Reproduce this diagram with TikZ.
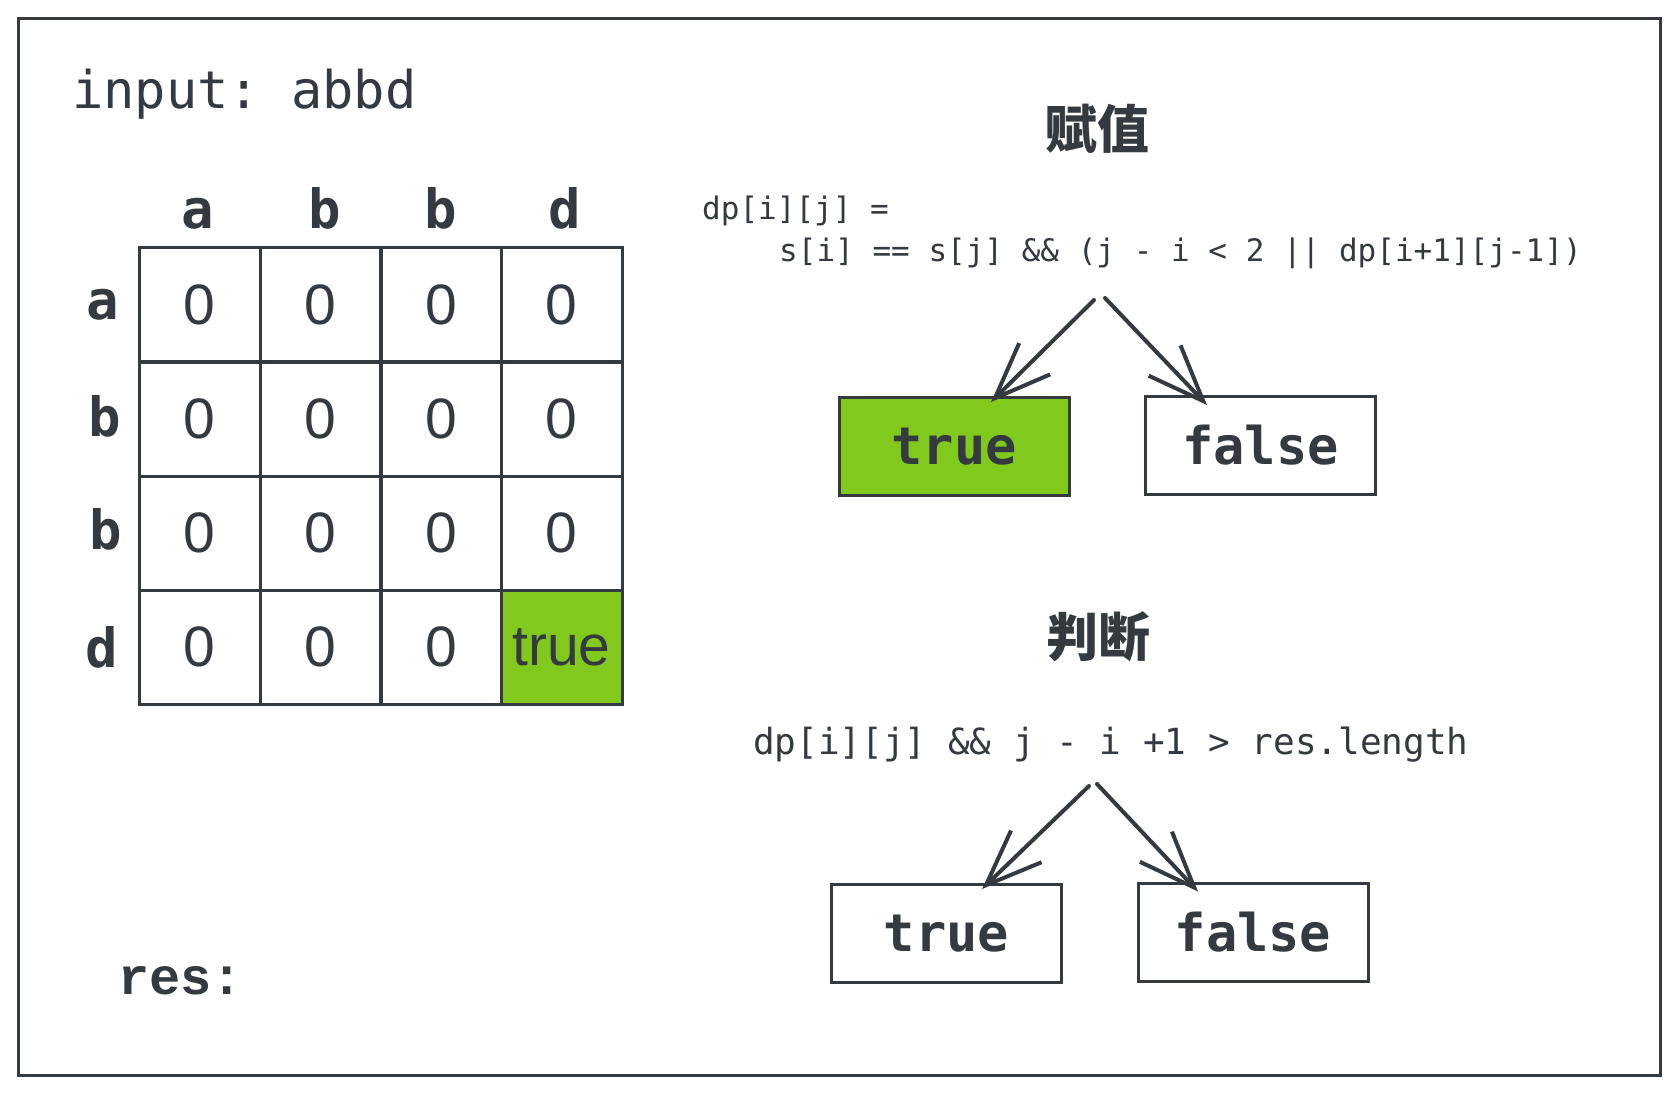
\documentclass[tikz,border=0pt]{standalone}
\usepackage{fontspec}
\setmainfont{Liberation Sans}
\setmonofont{DejaVu Sans Mono}
\newfontfamily\cjk{Noto Sans CJK SC}
\newfontfamily\resfont{Liberation Mono}
\usetikzlibrary{arrows.meta,calc}
\definecolor{ink}{HTML}{343A40}
\definecolor{lime}{HTML}{82C91E}
\tikzset{
  cell/.style={draw=ink, line width=3pt, minimum width=121pt, minimum height=114pt, inner sep=0pt, text=ink, font=\fontsize{57}{60}\selectfont},
  hdr/.style={text=ink, inner sep=0pt, anchor=base, font=\ttfamily\bfseries\fontsize{54}{60}\selectfont},
  codetxt/.style={text=ink, inner sep=0pt, anchor=base west},
  cbox/.style={draw=ink, line width=3pt, minimum width=230pt, minimum height=98pt, inner sep=0pt, text=ink, font=\ttfamily\bfseries\fontsize{52}{60}\selectfont},
  arr/.style={draw=ink, line width=4pt, line cap=round, -{Straight Barb[length=56pt,width=44pt,line width=4pt]}},
  title/.style={text=ink, inner sep=0pt, font=\cjk\bfseries\fontsize{52}{60}\selectfont}
}
\begin{document}
\begin{tikzpicture}[x=1pt,y=-1pt]
\useasboundingbox (0,0) rectangle (1680,1095);
\fill[white] (0,0) rectangle (1680,1095);
\draw[ink, line width=3pt] (18,18) rectangle (1660,1075);

% input label
\node[codetxt, font=\ttfamily\fontsize{52}{60}\selectfont] (inp) at (72,108) {input: abbd};

% column headers
\node[hdr] (h1) at (198,228) {a};
\node[hdr] (h2) at (325,228) {b};
\node[hdr] (h3) at (441,228) {b};
\node[hdr] (h4) at (565,228) {d};
% row headers
\node[hdr] (r1) at (103,319) {a};
\node[hdr] (r2) at (105,436) {b};
\node[hdr] (r3) at (106,549) {b};
\node[hdr] (r4) at (102,667) {d};

% grid
\foreach \r/\y in {1/304.5,2/419,3/533,4/647}{
  \foreach \c/\x in {1/199.5,2/320.5,3/441,4/561.5}{
    \ifnum\r\c=44\relax
      \node[cell, fill=lime] (c\r\c) at (\x,\y) {true};
    \else
      \node[cell] (c\r\c) at (\x,\y) {0};
    \fi
  }
}

% res label
\node[codetxt, font=\resfont\bfseries\fontsize{52}{60}\selectfont] (res) at (118,994) {res:};

% top section
\node[title] (t1) at (1097,129) {赋值};
\node[codetxt, font=\ttfamily\fontsize{31}{36}\selectfont] (f1) at (702,219) {dp[i][j] =};
\node[codetxt, font=\ttfamily\fontsize{31}{36}\selectfont] (f2) at (779,261) {s[i] == s[j] \&\& (j - i < 2 || dp[i+1][j-1])};
\node[cbox, fill=lime] (tb1) at (954,446.5) {true};
\node[cbox] (fb1) at (1260.5,445.5) {false};
\coordinate (a1) at (1094,300);
\coordinate (a2) at (1105,298);
\draw[arr] (a1) -- ([xshift=37pt,yshift=-6pt]tb1.north);
\draw[arr] (a2) -- ([xshift=-53.5pt,yshift=-10pt]fb1.north);

% bottom section
\node[title] (t2) at (1098,637) {判断};
\node[codetxt, font=\ttfamily\fontsize{36}{40}\selectfont] (f3) at (753,754) {dp[i][j] \&\& j - i +1 > res.length};
\node[cbox] (tb2) at (946.5,933.5) {true};
\node[cbox] (fb2) at (1253,932) {false};
\coordinate (b1) at (1089,786);
\coordinate (b2) at (1097,784);
\draw[arr] (b1) -- ([xshift=35.5pt,yshift=-6pt]tb2.north);
\draw[arr] (b2) -- ([xshift=-55pt,yshift=-10pt]fb2.north);
\end{tikzpicture}
\end{document}
